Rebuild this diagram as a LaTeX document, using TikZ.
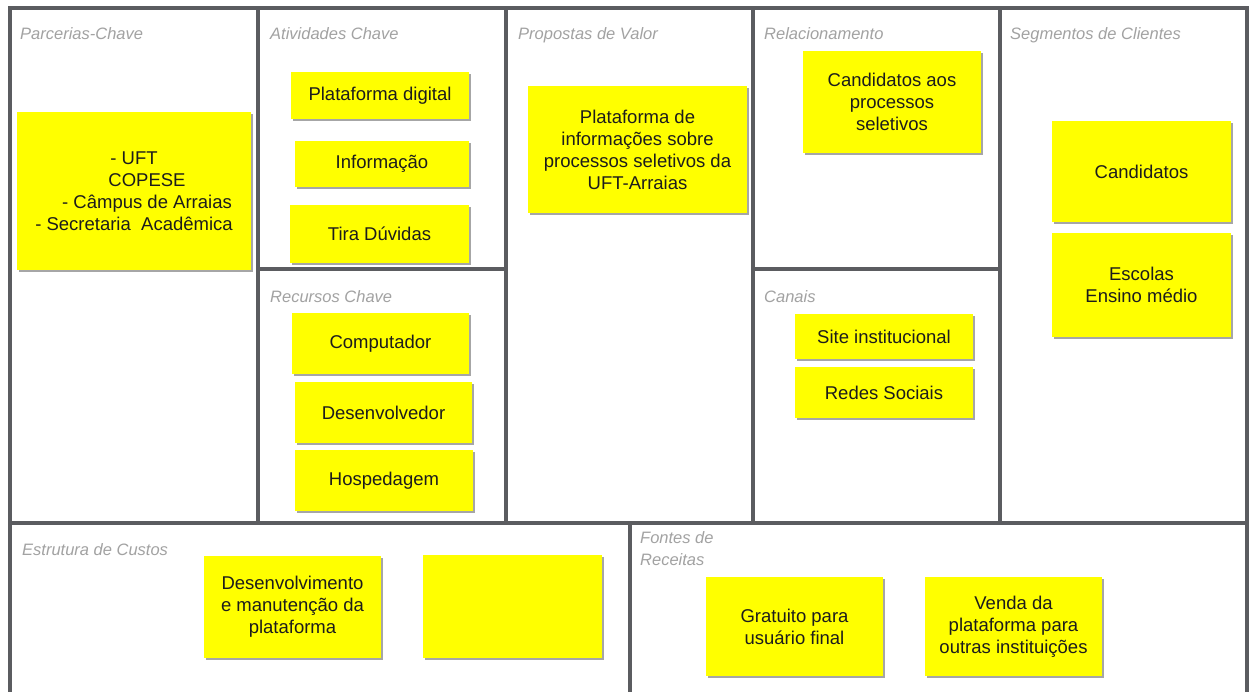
\documentclass[tikz,border=0pt]{standalone}
\usepackage{fontspec}
\setmainfont{Liberation Sans}
\usetikzlibrary{shadows}
\definecolor{frame}{HTML}{5B5C60}
\definecolor{lbl}{HTML}{A2A2A2}
\definecolor{sticky}{HTML}{FFFF00}
\definecolor{ink}{HTML}{1C1C1C}
\tikzset{
  grid/.style={draw=frame, line width=3.2pt},
  lab/.style={anchor=base west, inner sep=0pt, text=lbl, font=\fontsize{16.5}{22}\selectfont\itshape},
  note/.style={fill=sticky, inner sep=0pt, align=center, text=ink,
    font=\fontsize{18.5}{22}\selectfont,
    drop shadow={shadow xshift=1.5pt, shadow yshift=-2pt, opacity=0.35, fill=black}},
}
\begin{document}
\begin{tikzpicture}[x=1pt,y=-1pt]
\useasboundingbox (0,0) rectangle (1249,691);
\clip (0,0) rectangle (1249,691);
\fill[white] (0,0) rectangle (1249,691);
% frame
\draw[grid] (10,710) -- (10,8) -- (1247,8) -- (1247,710);
\draw[grid] (10,523) -- (1247,523);
\draw[grid] (258,8) -- (258,523);
\draw[grid] (506,8) -- (506,523);
\draw[grid] (753,8) -- (753,523);
\draw[grid] (1000,8) -- (1000,523);
\draw[grid] (258,269) -- (506,269);
\draw[grid] (753,269) -- (1000,269);
\draw[grid] (630,523) -- (630,710);
% labels
\node[lab] (l1) at (20,39) {Parcerias-Chave};
\node[lab] (l2) at (270,39) {Atividades Chave};
\node[lab] (l3) at (518,39) {Propostas de Valor};
\node[lab] (l4) at (764,39) {Relacionamento};
\node[lab] (l5) at (1010,39) {Segmentos de Clientes};
\node[lab] (l6) at (270,302) {Recursos Chave};
\node[lab] (l7) at (764,302) {Canais};
\node[lab] (l8) at (22,555) {Estrutura de Custos};
\node[lab] (l9) at (640,543) {Fontes de};
\node[lab] (l10) at (640,565) {Receitas};
% notes
\node[note, minimum width=234pt, minimum height=158pt] (partner) at (134,191)
  {- UFT\\ \hspace*{26pt}COPESE\\ \hspace*{26pt}- Câmpus de Arraias\\ - Secretaria\ \ Acadêmica};
\node[note, minimum width=178pt, minimum height=47pt] (act1) at (380,95.5) {Plataforma digital};
\node[note, minimum width=174pt, minimum height=46pt] (act2) at (382,164) {Informação};
\node[note, minimum width=179pt, minimum height=58pt] (act3) at (379.5,234) {Tira Dúvidas};
\node[note, minimum width=177pt, minimum height=61pt] (res1) at (380.5,343.5) {Computador};
\node[note, minimum width=177pt, minimum height=61pt] (res2) at (383.5,412.5) {Desenvolvedor};
\node[note, minimum width=178pt, minimum height=61pt] (res3) at (384,480.5) {Hospedagem};
\node[note, minimum width=219pt, minimum height=127pt] (value) at (637.5,149.5)
  {Plataforma de\\ informações sobre\\ processos seletivos da\\ UFT-Arraias};
\node[note, minimum width=178pt, minimum height=102pt] (rel) at (892,102)
  {Candidatos aos\\ processos\\ seletivos};
\node[note, minimum width=178pt, minimum height=45pt] (chan1) at (884,336.5) {Site institucional};
\node[note, minimum width=178pt, minimum height=51pt] (chan2) at (884,392.5) {Redes Sociais};
\node[note, minimum width=179pt, minimum height=101pt] (seg1) at (1141.5,171.5) {Candidatos};
\node[note, minimum width=179pt, minimum height=104pt] (seg2) at (1141.5,285) {Escolas\\ Ensino médio};
\node[note, minimum width=177pt, minimum height=102pt] (cost1) at (292.5,607)
  {Desenvolvimento\\ e manutenção da\\ plataforma};
\node[note, minimum width=179pt, minimum height=103pt] (cost2) at (512.5,606.5) {};
\node[note, minimum width=177pt, minimum height=99pt] (rev1) at (794.5,626.5)
  {Gratuito para\\ usuário final};
\node[note, minimum width=177pt, minimum height=99pt] (rev2) at (1013.5,626.5)
  {Venda da\\ plataforma para\\ outras instituições};
\end{tikzpicture}
\end{document}
